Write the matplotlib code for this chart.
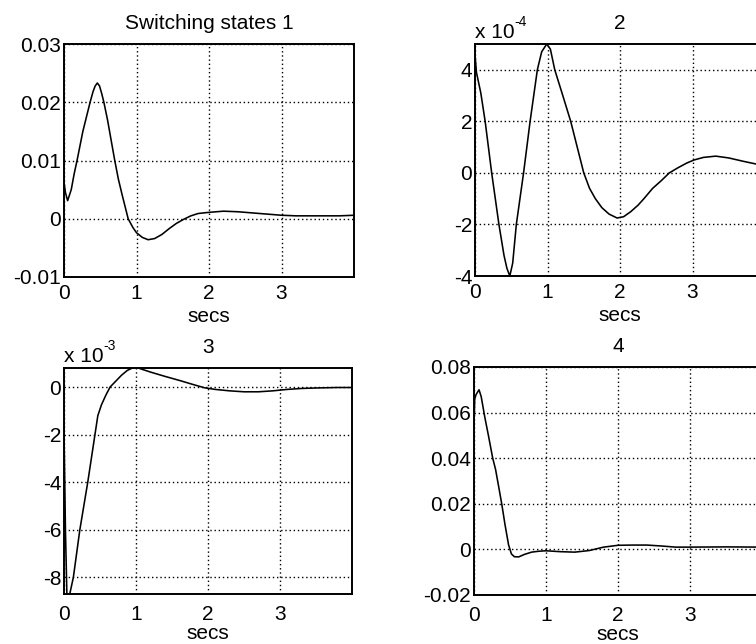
import matplotlib
matplotlib.use("Agg")
import matplotlib.pyplot as plt

plt.rcParams['font.family'] = ['Liberation Sans', 'DejaVu Sans']
FS = 15

# ---- data ----
t1 = [0.00, 0.02, 0.05, 0.10, 0.14, 0.18, 0.22, 0.26, 0.30, 0.36, 0.40, 0.43, 0.46, 0.49,
      0.52, 0.55, 0.60, 0.65, 0.70, 0.75, 0.80, 0.885, 0.95, 1.00, 1.08, 1.16, 1.25, 1.35,
      1.45, 1.55, 1.65, 1.75, 1.85, 2.00, 2.20, 2.40, 2.60, 2.80, 3.00, 3.20, 3.50, 3.80, 4.00]
y1 = [0.0063, 0.0045, 0.0031, 0.0050, 0.0077, 0.0100, 0.0125, 0.0150, 0.0170, 0.0200, 0.0218,
      0.0228, 0.0233, 0.0228, 0.0215, 0.0200, 0.0170, 0.0135, 0.0100, 0.0068, 0.0042, 0.0000,
      -0.0015, -0.0024, -0.0032, -0.0036, -0.0034, -0.0027, -0.0017, -0.0008, -0.0001, 0.0005,
      0.0009, 0.0011, 0.0013, 0.0012, 0.0010, 0.0008, 0.0006, 0.0005, 0.0005, 0.0005, 0.0006]

# state 2 values in units of 1e-4
t2 = [0.00, 0.02, 0.08, 0.14, 0.23, 0.33, 0.40, 0.44, 0.48, 0.52, 0.57, 0.62, 0.67, 0.76,
      0.86, 0.92, 0.99, 1.04, 1.10, 1.20, 1.32, 1.41, 1.50, 1.58, 1.66, 1.75, 1.85, 1.96,
      2.05, 2.15, 2.25, 2.33, 2.45, 2.57, 2.68, 2.80, 2.92, 3.02, 3.15, 3.32, 3.50, 3.70,
      3.90, 4.00]
y2 = [4.6, 3.9, 3.1, 2.0, 0.0, -2.0, -3.2, -3.7, -4.0, -3.5, -2.0, -1.0, 0.0, 2.0,
      4.0, 4.7, 5.0, 4.8, 4.0, 3.1, 2.0, 1.0, 0.0, -0.6, -1.0, -1.35, -1.6, -1.75,
      -1.7, -1.5, -1.25, -1.0, -0.6, -0.3, 0.0, 0.2, 0.38, 0.5, 0.6, 0.65, 0.58, 0.45,
      0.33, 0.28]

# state 3 values in units of 1e-3
t3 = [0.00, 0.02, 0.04, 0.08, 0.13, 0.22, 0.33, 0.43, 0.47, 0.52, 0.58, 0.64, 0.72, 0.80,
      0.88, 0.95, 1.00, 1.05, 1.20, 1.40, 1.60, 1.80, 1.95, 2.10, 2.30, 2.50, 2.70, 2.90,
      3.10, 3.30, 3.50, 3.80, 4.00]
y3 = [-1.8, -6.0, -8.7, -8.7, -8.0, -6.0, -4.0, -2.0, -1.2, -0.75, -0.35, 0.0, 0.25, 0.5,
      0.7, 0.8, 0.84, 0.78, 0.63, 0.45, 0.28, 0.1, -0.03, -0.1, -0.16, -0.2, -0.2, -0.16,
      -0.1, -0.06, -0.04, -0.02, -0.02]

t4 = [0.00, 0.01, 0.03, 0.07, 0.10, 0.15, 0.20, 0.26, 0.30, 0.34, 0.385, 0.43, 0.48, 0.52,
      0.56, 0.62, 0.70, 0.80, 0.90, 1.00, 1.20, 1.40, 1.60, 1.80, 2.00, 2.20, 2.40, 2.60,
      2.80, 3.00, 3.50, 4.00]
y4 = [0.054, 0.066, 0.068, 0.070, 0.067, 0.058, 0.050, 0.040, 0.035, 0.028, 0.020, 0.011,
      0.002, -0.002, -0.0032, -0.0033, -0.0022, -0.0012, -0.0008, -0.0006, -0.0010, -0.0012,
      -0.0005, 0.0010, 0.0018, 0.0019, 0.0019, 0.0015, 0.0010, 0.0010, 0.0011, 0.0010]

titles = ["Switching states 1", "2", "3", "4"]
xticks = [0, 1, 2, 3]
xticklabels = ["0", "1", "2", "3"]
yt1 = [-0.01, 0.0, 0.01, 0.02, 0.03]
ytl1 = ["-0.01", "0", "0.01", "0.02", "0.03"]
yt2 = [-4, -2, 0, 2, 4]
ytl2 = ["-4", "-2", "0", "2", "4"]
yt3 = [-8, -6, -4, -2, 0]
ytl3 = ["-8", "-6", "-4", "-2", "0"]
yt4 = [-0.02, 0.0, 0.02, 0.04, 0.06, 0.08]
ytl4 = ["-0.02", "0", "0.02", "0.04", "0.06", "0.08"]

W, H = 756, 644
fig = plt.figure(figsize=(W / 100, H / 100), dpi=100)

def rect(l, t, r, b):
    return [l / W, 1 - b / H, (r - l) / W, (b - t) / H]

specs = [
    (rect(64, 44, 354, 277), t1, y1, (-0.01, 0.03), yt1, ytl1, None, 5, 3),
    (rect(475, 44, 765, 276), t2, y2, (-4, 5), yt2, ytl2, "-4", 5, 3),
    (rect(64, 368, 352, 594), t3, y3, (-8.7, 0.8), yt3, ytl3, "-3", 8, 0),
    (rect(474, 367, 762, 595), t4, y4, (-0.02, 0.08), yt4, ytl4, None, 8, 0),
]

for i, (r, t, y, ylim, yt, ytl, expo, xpad, lpad) in enumerate(specs):
    ax = fig.add_axes(r)
    ax.plot(t, y, color='black', lw=1.15)
    ax.set_xlim(0, 4)
    ax.set_ylim(*ylim)
    ax.set_xticks(xticks)
    ax.set_xticklabels(xticklabels)
    ax.set_yticks(yt)
    ax.set_yticklabels(ytl)
    ax.grid(True, color='black', linestyle=(0, (1, 2)), linewidth=1.0)
    ax.tick_params(axis='both', length=0, labelsize=FS, colors='black')
    ax.tick_params(axis='y', pad=2)
    ax.tick_params(axis='x', pad=xpad)
    for s in ax.spines.values():
        s.set_linewidth(1.4)
        s.set_color('black')
    ax.set_title(titles[i], fontsize=FS, pad=11)
    ax.set_xlabel("secs", fontsize=FS, labelpad=lpad)
    if expo is not None:
        ax.annotate("x 10", xy=(0, 1), xycoords='axes fraction',
                    xytext=(0, 4), textcoords='offset points', ha='left', va='baseline',
                    fontsize=FS)
        ax.annotate(expo, xy=(0, 1), xycoords='axes fraction',
                    xytext=(28, 13), textcoords='offset points', ha='left', va='baseline',
                    fontsize=10)

fig.savefig("out.png", dpi=100)
